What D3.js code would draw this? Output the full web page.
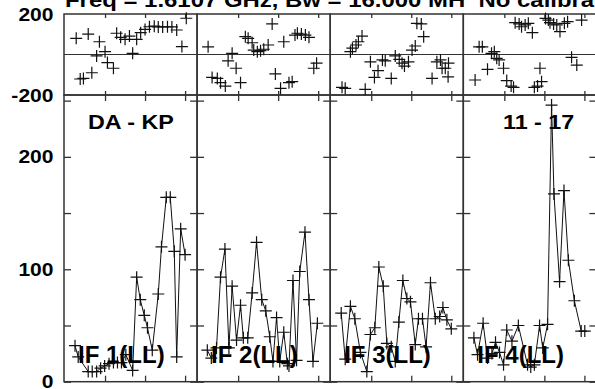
<!DOCTYPE html>
<html><head><meta charset="utf-8">
<script src="https://cdn.jsdelivr.net/npm/d3@7"></script>
<style>
body{margin:0;background:#fff}
svg{display:block}
text{font-family:"Liberation Sans",Arial,Helvetica,sans-serif;font-weight:bold;fill:#000}
</style></head>
<body><svg id="c" width="595" height="389"></svg>
<script>
// ---- data (time in minutes, amplitude, phase in degrees) ----
const titleText = "Freq = 1.6107 GHz, Bw = 16.000 MH  No calibration";
const baselineLabel = "DA - KP";
const timerangeLabel = "11 - 17";
const ifLabels = ["IF 1(LL)", "IF 2(LL)", "IF 3(LL)", "IF 4(LL)"];

const ampT1 = [2.5, 3.3, 5.8, 6.8, 7.9, 8.9, 9.9, 11.0, 12.1, 13.1, 14.1, 15.2, 16.9, 17.9, 18.8, 19.8, 20.6, 21.8, 23.3, 24.1, 25.3, 26.3, 27.3, 27.9, 28.9, 30.0];
const amp1  = [32, 22, 9, 9, 9, 12, 14, 16, 17, 17, 17, 24, 10, 93, 73, 59, 48, 28, 78, 120, 164, 164, 116, 22, 136, 113];
const phT1  = [2.8, 3.8, 4.6, 5.8, 6.7, 7.9, 8.6, 10.0, 10.6, 12.1, 12.9, 13.9, 15.0, 16.1, 16.9, 17.9, 18.9, 20.0, 21.1, 22.3, 23.3, 24.4, 25.6, 26.7, 27.9, 29.2, 30.3];
const ph1   = [80, -121, -118, 101, -90, -7, 63, 14, -40, -68, 105, 85, 75, 91, 6, 75, 108, 124, 137, 140, 136, 136, 137, 136, 121, 39, 179];

const ampT2 = [2.3, 3.3, 4.6, 5.6, 6.7, 7.7, 8.5, 9.6, 10.6, 11.3, 12.4, 13.5, 14.6, 15.9, 16.9, 17.9, 18.7, 19.6, 20.4, 21.4, 22.3, 22.7, 23.7, 24.6, 25.4, 26.7, 27.7, 28.7, 29.8];
const amp2  = [28, 21, 30, 93, 118, 30, 85, 37, 68, 39, 39, 79, 124, 73, 63, 40, 18, 57, 18, 44, 16, 14, 90, 19, 98, 133, 73, 18, 52];
const phT2  = [2.5, 3.5, 4.8, 5.6, 6.8, 7.5, 8.5, 9.5, 10.6, 11.8, 12.5, 13.5, 13.9, 14.8, 15.6, 16.4, 17.5, 18.5, 19.3, 20.6, 21.4, 22.7, 23.5, 24.2, 24.8, 25.8, 26.8, 27.7, 28.9, 29.6];
const ph2   = [38, -113, -118, -139, -156, -31, 6, -68, -139, 88, 80, 58, 22, 14, 19, 26, 47, 151, -96, -167, 63, -139, -134, 96, 105, 101, 96, 85, -68, -43];

const ampT3 = [2.5, 3.5, 4.8, 5.9, 7.3, 8.9, 9.8, 10.9, 11.9, 13.0, 13.9, 15.0, 16.0, 16.9, 17.9, 18.9, 19.8, 21.0, 21.8, 22.8, 23.7, 24.8, 26.0, 27.1, 27.9, 28.9, 30.0];
const amp3  = [61, 20, 67, 56, 26, 9, 42, 48, 102, 85, 34, 31, 18, 53, 90, 74, 71, 33, 56, 56, 31, 88, 56, 58, 66, 55, 47];
const phT3  = [2.7, 3.5, 4.8, 5.3, 6.2, 6.8, 7.7, 8.5, 9.8, 10.8, 11.7, 12.8, 13.5, 15.0, 16.0, 17.0, 17.7, 18.3, 19.3, 20.2, 21.0, 21.4, 22.5, 23.1, 25.2, 26.4, 27.3, 27.7, 28.5, 29.2, 29.3];
const ph3   = [-162, -167, 14, 31, 47, 63, 91, -172, -36, -113, -80, -27, -31, -118, -7, -24, -43, -57, -36, 22, 42, 154, 151, 88, -118, -36, -27, -68, -68, -110, -43];

const ampT4 = [2.4, 3.3, 4.7, 5.8, 6.9, 7.8, 8.8, 9.8, 10.6, 11.9, 13.5, 15.8, 16.6, 17.5, 18.8, 19.6, 20.8, 21.8, 22.4, 23.8, 24.9, 26.0, 27.5, 29.2, 30.1];
const amp4  = [39, 24, 52, 21, 25, 35, 26, 15, 46, 36, 50, 15, 13, 15, 50, 30, 51, 246, 167, 89, 170, 108, 72, 45, 45];
const phT4  = [2.7, 3.7, 4.5, 5.8, 6.8, 7.5, 8.1, 8.7, 9.8, 10.6, 11.7, 12.3, 12.7, 13.7, 14.3, 15.2, 16.0, 17.0, 17.5, 18.3, 18.9, 19.3, 20.3, 21.0, 21.4, 22.3, 23.1, 23.9, 25.0, 25.8, 26.8, 28.1, 29.3];
const ph4   = [-126, 38, 38, -73, 6, 14, -19, -27, -68, -129, -156, -162, 157, 151, 137, 146, 154, 108, -162, -156, -68, -134, 178, 170, 157, 151, 146, 113, 154, 162, -14, -52, 170];

const timeDomain = [-0.25, 33.0];
const timeTicks = [10, 20, 30];
const ampDomain = [0, 255];
const ampTicks = [0, 50, 100, 150, 200, 250];
const ampTickLabels = [0, 100, 200];
const phaseDomain = [-200, 200];
const phaseTickLabels = [-200, 200];

// ---- layout ----
const svg = d3.select("#c");
const L = 64, W = 133.1, yTop = 14, yMid = 95, yBot = 381.7;
const yP = d3.scaleLinear().domain(phaseDomain).range([yMid, yTop]);
const yA = d3.scaleLinear().domain(ampDomain).range([yBot, yMid]);
const panels = [
  {t: ampT1, a: amp1, pt: phT1, p: ph1},
  {t: ampT2, a: amp2, pt: phT2, p: ph2},
  {t: ampT3, a: amp3, pt: phT3, p: ph3},
  {t: ampT4, a: amp4, pt: phT4, p: ph4}
];
const frameColor = "#333";
const cross = "M-6,0H6M0,-6V6";

panels.forEach((pd, i) => {
  const x = d3.scaleLinear().domain(timeDomain).range([L + i * W, L + (i + 1) * W]);
  const g = svg.append("g");
  g.append("line").attr("x1", x.range()[0]).attr("x2", x.range()[1])
    .attr("y1", yP(0)).attr("y2", yP(0)).attr("stroke", frameColor).attr("stroke-width", 1.2);
  const styleAxis = s => { s.select(".domain").remove(); s.selectAll("line").attr("stroke", frameColor).attr("stroke-width", 1.3); s.selectAll("text").remove(); };
  g.append("g").attr("transform", `translate(0,${yTop})`).call(d3.axisTop(x).tickValues(timeTicks).tickSize(-4)).call(styleAxis);
  g.append("g").attr("transform", `translate(0,${yMid})`).call(d3.axisBottom(x).tickValues(timeTicks).tickSize(-4)).call(styleAxis);
  g.append("g").attr("transform", `translate(0,${yMid})`).call(d3.axisTop(x).tickValues(timeTicks).tickSize(-6)).call(styleAxis);
  g.append("g").attr("transform", `translate(0,${yBot})`).call(d3.axisBottom(x).tickValues(timeTicks).tickSize(-6)).call(styleAxis);
  g.append("g").attr("transform", `translate(${x.range()[0]},0)`).call(d3.axisLeft(yA).tickValues(ampTicks).tickSize(-7)).call(styleAxis);
  g.append("g").attr("transform", `translate(${x.range()[1]},0)`).call(d3.axisRight(yA).tickValues(ampTicks).tickSize(-7)).call(styleAxis);
  g.append("rect").attr("x", x.range()[0]).attr("y", yTop).attr("width", W).attr("height", yMid - yTop)
    .attr("fill", "none").attr("stroke", frameColor).attr("stroke-width", 1.5);
  g.append("rect").attr("x", x.range()[0]).attr("y", yMid).attr("width", W).attr("height", yBot - yMid)
    .attr("fill", "none").attr("stroke", frameColor).attr("stroke-width", 1.5);

  g.append("g").selectAll("path").data(pd.pt.map((t, k) => [t, pd.p[k]])).join("path")
    .attr("d", cross).attr("transform", d => `translate(${x(d[0])},${yP(d[1])})`)
    .attr("stroke", "#111").attr("stroke-width", 1.2).attr("fill", "none");

  const ad = pd.t.map((t, k) => [t, pd.a[k]]);
  g.append("path").datum(ad).attr("d", d3.line().x(d => x(d[0])).y(d => yA(d[1])))
    .attr("fill", "none").attr("stroke", "#111").attr("stroke-width", 1);
  g.append("g").selectAll("path").data(ad).join("path")
    .attr("d", cross).attr("transform", d => `translate(${x(d[0])},${yA(d[1])})`)
    .attr("stroke", "#111").attr("stroke-width", 1.2).attr("fill", "none");

  svg.append("text").attr("transform", `translate(${x.range()[0] + 14},363)`)
    .attr("font-size", 24).text(ifLabels[i]);
});

const sx = 1.17;
ampTickLabels.forEach(v => {
  svg.append("text").attr("transform", `translate(53.5,${yA(v) + 6.5}) scale(${sx},1)`)
    .attr("text-anchor", "end").attr("font-size", 18).text(v);
});
phaseTickLabels.forEach(v => {
  svg.append("text").attr("transform", `translate(53.5,${yP(v) + 6.5}) scale(${sx},1)`)
    .attr("text-anchor", "end").attr("font-size", 18).text(v);
});

svg.append("text").attr("transform", `translate(88,129) scale(1.11,1)`).attr("font-size", 21).text(baselineLabel);
svg.append("text").attr("transform", `translate(503,129) scale(1.11,1)`).attr("font-size", 21).text(timerangeLabel);

svg.append("text").attr("transform", `translate(65,6.5) scale(1.14,1)`).attr("font-size", 21)
  .style("white-space", "pre").text(titleText);
</script>
</body></html>
